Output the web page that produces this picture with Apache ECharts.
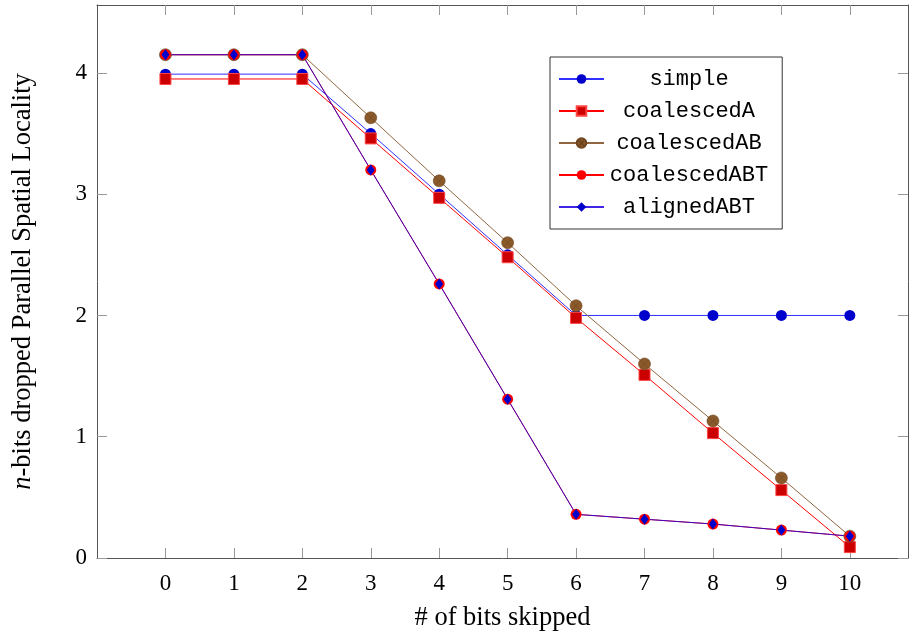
<!DOCTYPE html>
<html><head><meta charset="utf-8">
<script src="https://cdn.jsdelivr.net/npm/echarts@6/dist/echarts.min.js"></script>
<style>html,body{margin:0;padding:0;background:#fff}#c{width:910px;height:634px}</style>
</head><body><div id="c"></div>
<script>
const bits = [0,1,2,3,4,5,6,7,8,9,10];
const yTicks = [0,1,2,3,4];
const simple = [3.99,3.99,3.99,3.50,3.00,2.50,2.00,2.00,2.00,2.00,2.00];
const coalescedA = [3.95,3.95,3.95,3.46,2.97,2.48,1.98,1.51,1.03,0.56,0.09];
const coalescedAB = [4.15,4.15,4.15,3.63,3.11,2.60,2.08,1.60,1.13,0.66,0.18];
const coalescedABT = [4.15,4.15,4.15,3.20,2.26,1.31,0.36,0.32,0.28,0.23,0.18];
const alignedABT = [4.15,4.15,4.15,3.20,2.26,1.31,0.36,0.32,0.28,0.23,0.18];

const pairs = a => bits.map((x,i)=>[x,a[i]]);
const serif = 'Liberation Serif';
const mono = 'Liberation Mono';
const axisLineStyle = {color:'#555', width:1};
const tickStyle = {color:'#999', width:1};
const otimes = 'path://M0,5A5,5 0 1,1 10,5A5,5 0 1,1 0,5ZM1.5,1.5L8.5,8.5M8.5,1.5L1.5,8.5';

function baseX(extra){ return Object.assign({
  type:'value', min:-1, max:10.85, interval:1,
  axisLine:{show:true, onZero:false, lineStyle:axisLineStyle},
  axisTick:{show:true, inside:true, length:10, lineStyle:tickStyle, customValues:bits},
  splitLine:{show:false}
}, extra); }
function baseY(extra){ return Object.assign({
  type:'value', min:0, max:4.56, interval:1,
  axisLine:{show:true, onZero:false, lineStyle:axisLineStyle},
  axisTick:{show:true, inside:true, length:10, lineStyle:tickStyle, customValues:yTicks},
  splitLine:{show:false}
}, extra); }

const chart = echarts.init(document.getElementById('c'));
chart.setOption({
  animation:false,
  grid:{left:97, right:2, top:5, bottom:76, containLabel:false, outerBoundsMode:'none'},
  xAxis:[
    baseX({position:'bottom', name:'# of bits skipped', nameLocation:'middle', nameGap:47,
      nameTextStyle:{fontFamily:serif, fontSize:26.5, color:'#000'},
      axisLabel:{show:true, margin:14, fontFamily:serif, fontSize:23, color:'#000', customValues:bits}}),
    baseX({position:'top', axisLabel:{show:false}})
  ],
  yAxis:[
    baseY({position:'left', name:'{i|n}-bits dropped Parallel Spatial Locality', nameLocation:'middle', nameGap:60,
      nameTextStyle:{fontFamily:serif, fontSize:26.5, color:'#000', rich:{i:{fontFamily:serif, fontSize:26.5, fontStyle:'italic', color:'#000'}}},
      axisLabel:{show:true, margin:10, fontFamily:serif, fontSize:23, color:'#000', customValues:yTicks}}),
    baseY({position:'right', axisLabel:{show:false}})
  ],
  legend:{
    orient:'vertical', left:550, top:57,
    backgroundColor:'#fff', borderColor:'#333', borderWidth:1,
    padding:[11,14,11,8], itemWidth:45, itemHeight:12, itemGap:10,
    formatter: n => '{t|'+n+'}',
    textStyle:{fontFamily:mono, fontSize:22, color:'#000',
      rich:{t:{width:160, align:'center', fontFamily:mono, fontSize:22, color:'#000'}}}
  },
  series:[
    {name:'simple', type:'line', data:pairs(simple), symbol:'circle', symbolSize:11,
     lineStyle:{color:'#3030ff', width:1}, itemStyle:{color:'#0000cc', borderColor:'#0000cc', borderWidth:0}},
    {name:'coalescedA', type:'line', data:pairs(coalescedA), symbol:'rect', symbolSize:11,
     lineStyle:{color:'#ff0000', width:1}, itemStyle:{color:'#cc0000', borderColor:'#ff4444', borderWidth:1}},
    {name:'coalescedAB', type:'line', data:pairs(coalescedAB), symbol:otimes, symbolSize:12,
     lineStyle:{color:'#8f6640', width:1}, itemStyle:{color:'#8b5a2b', borderColor:'#6e4520', borderWidth:0.6}},
    {name:'coalescedABT', type:'line', data:pairs(coalescedABT), symbol:'circle', symbolSize:11,
     lineStyle:{color:'#ff0000', width:1}, itemStyle:{color:'#ff0000', borderWidth:0}},
    {name:'alignedABT', type:'line', data:pairs(alignedABT), symbol:'diamond', symbolSize:[8,11],
     lineStyle:{color:'#2000e0', width:1, opacity:0.85}, itemStyle:{color:'#0000cc', borderWidth:0}}
  ]
});
</script></body></html>
